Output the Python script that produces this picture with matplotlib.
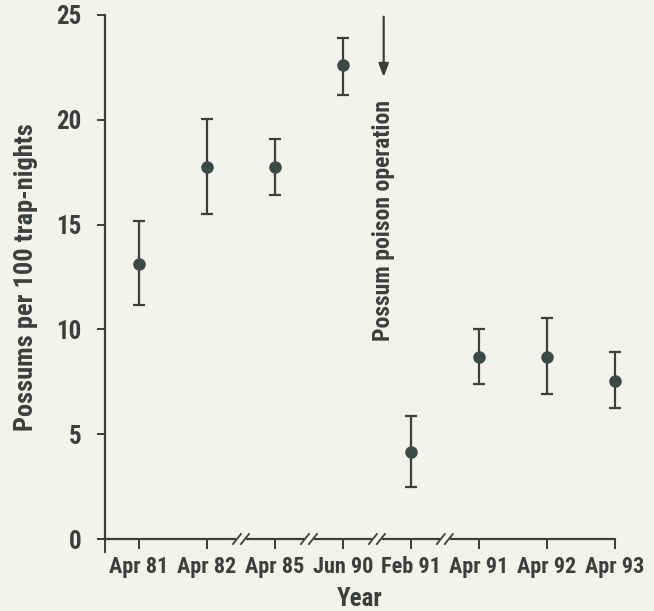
import numpy as np
import matplotlib.pyplot as plt

# data
LABELS = ["Apr 81", "Apr 82", "Apr 85", "Jun 90", "Feb 91", "Apr 91", "Apr 92", "Apr 93"]
MEAN = [13.1, 17.75, 17.75, 22.6, 4.15, 8.7, 8.7, 7.55]
LOW = [11.15, 15.5, 16.4, 21.2, 2.5, 7.4, 6.9, 6.25]
HIGH = [15.15, 20.05, 19.1, 23.9, 5.85, 10.0, 10.55, 8.9]
BREAKS = [2.5, 3.5, 4.5, 5.5]
ARROW_X = 4.6

BG = "#f3f2ec"
INK = "#3b3f3e"
DOT = "#3c4a47"

plt.rcParams["font.family"] = ["Roboto Condensed", "DejaVu Sans"]
plt.rcParams["font.weight"] = "bold"

x = np.arange(1, len(LABELS) + 1)
mean = np.array(MEAN)
err = np.vstack([mean - np.array(LOW), np.array(HIGH) - mean])

fig = plt.figure(figsize=(6.54, 6.11), dpi=100, facecolor=BG)
ax = fig.add_axes([0.1606, 0.1178, 0.7794, 0.8577], facecolor=BG)

ax.errorbar(x, mean, yerr=err, fmt="o", color=DOT, ecolor=INK, elinewidth=1.6,
            capsize=4.5, capthick=1.6, markersize=8, zorder=3, clip_on=False)

ax.set_xlim(0.5, 8)
ax.set_ylim(0, 25)
for s in ["top", "right"]:
    ax.spines[s].set_visible(False)
for s in ["left", "bottom"]:
    ax.spines[s].set_color(INK)
    ax.spines[s].set_linewidth(1.6)

ax.set_xticks(np.r_[0.5, x], [""] + LABELS)
ax.set_yticks([0, 5, 10, 15, 20, 25])
ax.tick_params(axis="x", direction="out", length=7, width=1.4, color=INK,
               labelsize=16, labelcolor=INK, pad=5)
ax.tick_params(axis="y", direction="out", length=6, width=1.4, color=INK,
               labelsize=18, labelcolor=INK, pad=11)
for t in ax.get_xticklabels() + ax.get_yticklabels():
    t.set_fontweight("bold")
ax.xaxis.get_major_ticks()[0].tick1line.set_markersize(10)

ax.set_xlabel("Year", fontsize=18, fontweight="bold", color=INK, labelpad=7)
ax.set_ylabel("Possums per 100 trap-nights", fontsize=19, fontweight="bold",
              color=INK, labelpad=13)

# axis break marks "//"
ux = 1 / 68.0    # data units per pixel on x
uy = 1 / 20.96   # data units per pixel on y
for xb in BREAKS:
    ax.plot([xb - 5 * ux, xb + 5 * ux], [0, 0], color=BG, lw=3, clip_on=False, zorder=4,
            solid_capstyle="butt")
    for off in (-4, 4):
        ax.plot([xb + (off - 4) * ux, xb + (off + 4) * ux], [-5 * uy, 5 * uy],
                color=INK, lw=1.3, clip_on=False, zorder=5)

# poison operation arrow and label
ax.annotate("", xy=(ARROW_X, 21.9), xytext=(ARROW_X, 25.05),
            arrowprops=dict(arrowstyle="-|>,head_length=0.8,head_width=0.3",
                            color=INK, lw=1.6), annotation_clip=False)
ax.text(ARROW_X - 0.01, 15.2, "Possum poison operation", rotation=90, ha="center",
        va="center", fontsize=17, fontweight="bold", color=INK)

fig.savefig("out.png", dpi=100, facecolor=BG)
